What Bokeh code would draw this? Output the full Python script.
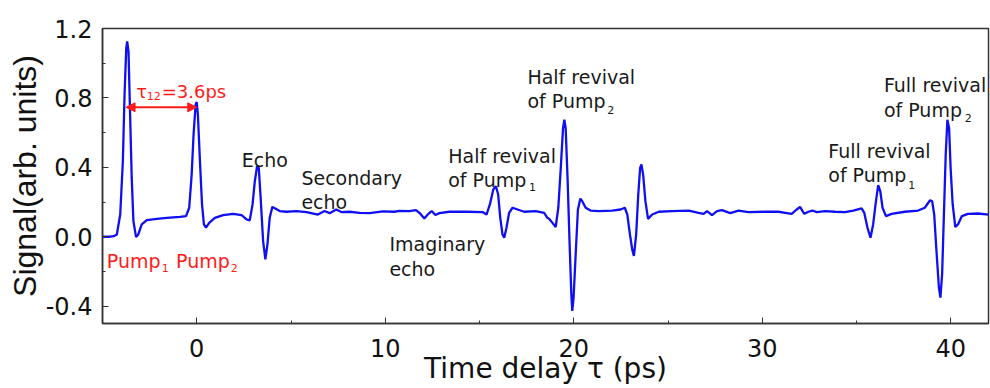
from bokeh.plotting import figure
from bokeh.models import Label, Arrow, NormalHead, FixedTicker, PrintfTickFormatter, ColumnDataSource
from bokeh.embed import file_html
from bokeh.resources import INLINE

# ---- data ----
tau = [-5.0, -4.6, -4.4, -4.24, -4.06, -3.92, -3.83, -3.74, -3.69, -3.62, -3.54, -3.45, -3.36, -3.22,
       -3.10, -2.92, -2.65, -2.12, -1.59, -0.89, -0.57, -0.40, -0.27, -0.17, -0.06, 0.0, 0.06, 0.17,
       0.28, 0.38, 0.49, 0.66, 0.96, 1.40, 1.93, 2.38, 2.64, 2.81, 2.96, 3.08, 3.20, 3.29, 3.40, 3.52,
       3.64, 3.75, 3.87, 4.01, 4.19, 4.40, 4.76, 5.28, 5.82, 6.43, 6.78, 7.05, 7.40, 7.67, 8.11, 8.64,
       9.17, 9.87, 10.49, 10.75, 11.28, 11.63, 11.85, 12.07, 12.29, 12.46, 12.66, 12.87, 13.40, 14.28,
       15.16, 15.37, 15.55, 15.73, 15.87, 15.99, 16.10, 16.22, 16.31, 16.43, 16.57, 16.75, 17.02, 17.37,
       17.98, 18.43, 18.60, 18.69, 18.87, 19.04, 19.18, 19.31, 19.43, 19.50, 19.57, 19.67, 19.78, 19.87,
       19.92, 19.99, 20.10, 20.22, 20.35, 20.45, 20.63, 20.89, 21.33, 22.04, 22.48, 22.71, 22.84, 22.98,
       23.10, 23.19, 23.31, 23.42, 23.52, 23.59, 23.68, 23.80, 23.94, 24.16, 24.51, 25.21, 26.10, 26.62,
       26.89, 27.07, 27.33, 27.60, 27.86, 28.30, 28.74, 29.27, 30.15, 30.86, 31.22, 31.56, 31.83, 32.00,
       32.23, 32.45, 32.66, 32.89, 33.33, 33.86, 34.38, 34.83, 35.27, 35.41, 35.58, 35.74, 35.88, 36.03,
       36.15, 36.26, 36.38, 36.56, 36.86, 37.56, 38.27, 38.62, 38.89, 39.01, 39.12, 39.24, 39.37, 39.45,
       39.54, 39.64, 39.73, 39.82, 39.91, 39.99, 40.10, 40.24, 40.38, 40.59, 40.91, 41.44, 42.0]
signal = [0.0, 0.0, 0.003, 0.013, 0.128, 0.435, 0.818, 1.086, 1.125, 1.067, 0.722, 0.339, 0.090, -0.002,
          0.013, 0.071, 0.096, 0.103, 0.109, 0.115, 0.119, 0.167, 0.358, 0.588, 0.761, 0.776, 0.703, 0.435,
          0.186, 0.071, 0.052, 0.080, 0.109, 0.125, 0.132, 0.125, 0.100, 0.094, 0.186, 0.320, 0.406, 0.397,
          0.205, -0.025, -0.130, -0.044, 0.109, 0.172, 0.161, 0.148, 0.144, 0.148, 0.142, 0.128, 0.148,
          0.136, 0.157, 0.142, 0.144, 0.138, 0.136, 0.146, 0.144, 0.149, 0.148, 0.153, 0.134, 0.105, 0.132,
          0.148, 0.125, 0.136, 0.144, 0.144, 0.142, 0.128, 0.186, 0.272, 0.291, 0.243, 0.109, 0.013, -0.006,
          0.052, 0.138, 0.167, 0.157, 0.144, 0.148, 0.138, 0.109, 0.104, 0.080, 0.056, 0.167, 0.397, 0.626,
          0.674, 0.626, 0.339, -0.044, -0.331, -0.427, -0.351, -0.102, 0.157, 0.220, 0.205, 0.167, 0.151,
          0.148, 0.151, 0.157, 0.167, 0.128, 0.013, -0.073, -0.111, 0.013, 0.243, 0.397, 0.416, 0.358,
          0.205, 0.103, 0.128, 0.144, 0.148, 0.151, 0.138, 0.132, 0.148, 0.125, 0.148, 0.153, 0.136, 0.151,
          0.142, 0.144, 0.144, 0.138, 0.132, 0.157, 0.172, 0.132, 0.144, 0.151, 0.142, 0.148, 0.144, 0.142,
          0.151, 0.163, 0.138, 0.052, -0.006, 0.071, 0.205, 0.297, 0.262, 0.167, 0.119, 0.132, 0.144, 0.151,
          0.167, 0.209, 0.205, 0.128, -0.082, -0.293, -0.351, -0.216, 0.148, 0.473, 0.674, 0.626, 0.397,
          0.186, 0.056, 0.071, 0.119, 0.132, 0.134, 0.128]

x_major_ticks = [0, 10, 20, 30, 40]
x_minor_ticks = [-5, 0, 5, 10, 15, 20, 25, 30, 35, 40]
y_major_ticks = [-0.4, 0.0, 0.4, 0.8, 1.2]
y_minor_ticks = [-0.4, -0.2, 0.0, 0.2, 0.4, 0.6, 0.8, 1.0, 1.2]

FONT = "DejaVu Sans"
YFONT = "Liberation Sans"

p = figure(width=990, height=388, x_range=(-5, 42), y_range=(-0.5, 1.2),
           output_backend="svg", toolbar_location=None,
           min_border_left=102, min_border_right=2, min_border_top=28, min_border_bottom=65,
           x_axis_label="Time delay \u03c4 (ps)", y_axis_label="Signal(arb. units)")

p.line(x="tau", y="signal", source=ColumnDataSource(dict(tau=tau, signal=signal)),
       line_color="#0f0ff2", line_width=2.3)

p.xgrid.visible = False
p.ygrid.visible = False
p.outline_line_color = "#333333"
p.outline_line_width = 1.5
p.outline_line_alpha = 1.0

p.xaxis.ticker = FixedTicker(ticks=x_major_ticks, minor_ticks=x_minor_ticks)
p.yaxis.ticker = FixedTicker(ticks=y_major_ticks, minor_ticks=y_minor_ticks)
p.yaxis.formatter = PrintfTickFormatter(format="%.1f")

for ax in (p.xaxis[0], p.yaxis[0]):
    ax.major_tick_in = 6
    ax.major_tick_out = 0
    ax.minor_tick_in = 3
    ax.minor_tick_out = 0
    ax.major_tick_line_color = "#333333"
    ax.minor_tick_line_color = "#333333"
    ax.axis_line_color = "#333333"
    ax.axis_line_width = 1.5
    ax.major_label_text_font = FONT
    ax.major_label_text_font_size = "24px"
    ax.major_label_text_color = "#111111"
    ax.axis_label_text_font_style = "normal"
    ax.axis_label_text_color = "#111111"

p.xaxis.major_label_standoff = 15
p.xaxis.axis_label_standoff = -8
p.xaxis.axis_label_text_font = FONT
p.xaxis.axis_label_text_font_size = "28px"
p.yaxis.major_label_standoff = 10
p.yaxis.axis_label_standoff = 0
p.yaxis.axis_label_text_font = YFONT
p.yaxis.axis_label_text_font_size = "32px"

RED = "#ff1a1a"
BLACK = "#1a1a1a"


def lab(x, y, text, color=BLACK, size="19px"):
    p.add_layout(Label(x=x, y=y, text=text, text_font=FONT, text_font_size=size,
                       text_color=color, text_align="left", text_baseline="alphabetic"))


# red annotations
p.add_layout(Arrow(x_start=-3.75, y_start=0.746, x_end=0.0, y_end=0.746,
                   line_color=RED, line_width=2,
                   start=NormalHead(size=9, fill_color=RED, line_color=RED),
                   end=NormalHead(size=9, fill_color=RED, line_color=RED)))
lab(-3.21, 0.837, "\u03c4", RED, "18px")
lab(-2.65, 0.812, "12", RED, "11px")
lab(-1.86, 0.837, "=3.6ps", RED, "18px")
lab(-4.77, -0.14, "Pump", RED)
lab(-1.86, -0.178, "1", RED, "11px")
lab(-1.10, -0.14, "Pump", RED)
lab(1.80, -0.178, "2", RED, "11px")

# black annotations
lab(2.39, 0.444, "Echo")
lab(5.55, 0.339, "Secondary")
lab(5.55, 0.201, "echo")
lab(10.22, -0.04, "Imaginary")
lab(10.22, -0.188, "echo")
lab(13.34, 0.464, "Half revival")
lab(13.34, 0.329, "of Pump")
lab(17.63, 0.286, "1", BLACK, "11px")
lab(17.54, 0.922, "Half revival")
lab(17.54, 0.780, "of Pump")
lab(21.77, 0.732, "2", BLACK, "11px")
lab(33.5, 0.496, "Full revival")
lab(33.5, 0.358, "of Pump")
lab(37.74, 0.30, "1", BLACK, "11px")
lab(36.45, 0.876, "Full revival")
lab(36.45, 0.732, "of Pump")
lab(40.74, 0.684, "2", BLACK, "11px")

open("out.html", "w").write(file_html(p, INLINE))
